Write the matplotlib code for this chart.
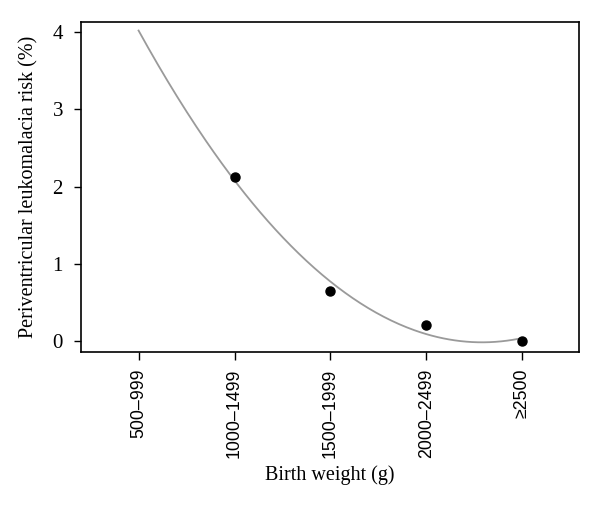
import numpy as np
import matplotlib
matplotlib.use("Agg")
import matplotlib.pyplot as plt

# birth weight groups and observed PVL risk (%)
categories = ["500–999", "1000–1499", "1500–1999", "2000–2499", "≥2500"]
obs_idx = [1, 2, 3, 4]
risk = [2.12, 0.65, 0.21, 0.0]

# quadratic trend fitted to the observed points
coef = np.polyfit(obs_idx, risk, 2)
xs = np.linspace(0, 4, 200)
ys = np.polyval(coef, xs)

fig = plt.figure(figsize=(6, 5.13), dpi=100)
ax = fig.add_axes([0.135, 0.314, 0.83, 0.643])

ax.plot(xs, ys, color="#9a9a9a", lw=1.3)
ax.plot(obs_idx, risk, "o", color="black", ms=6.5)

ax.set_xlim(-0.6, 4.59)
ax.set_ylim(-0.14, 4.13)
ax.set_xticks(range(len(categories)))
ax.set_xticklabels(categories, rotation=90, family="Liberation Sans", fontsize=12.8)
ax.set_yticks([0, 1, 2, 3, 4])
ax.set_yticklabels(["0", "1", "2", "3", "4"], family="Liberation Serif", fontsize=15)
ax.tick_params(axis="x", length=6, width=1, pad=6)
ax.tick_params(axis="y", length=5, width=1, pad=8)
for s in ax.spines.values():
    s.set_linewidth(1.2)

ax.set_xlabel("Birth weight (g)", family="Liberation Serif", fontsize=14.5, labelpad=5)
ax.set_ylabel("Periventricular leukomalacia risk (%)", family="Liberation Serif", fontsize=14.5, labelpad=10)

fig.savefig("out.png", dpi=100)
